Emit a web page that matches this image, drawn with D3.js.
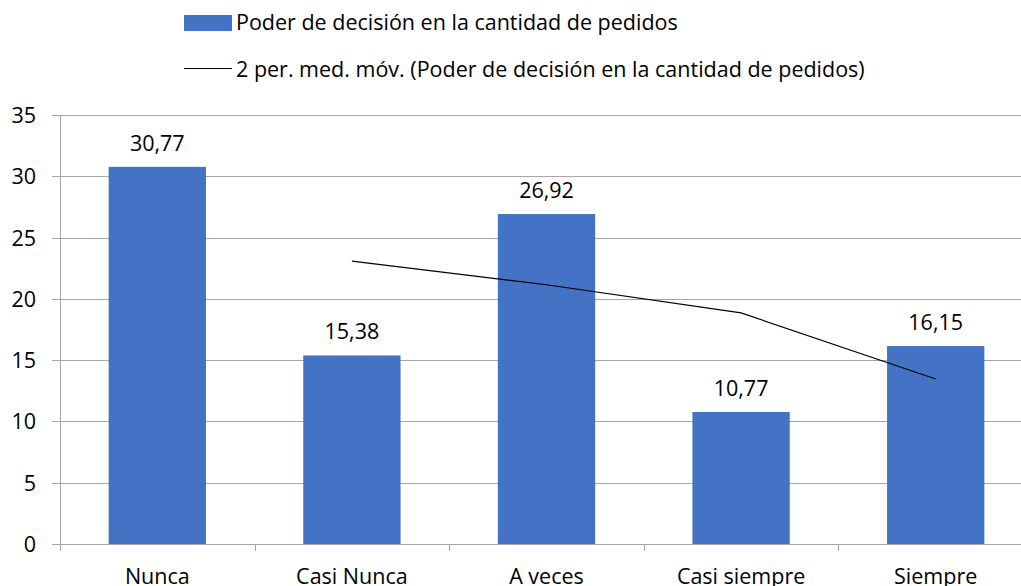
<!DOCTYPE html>
<style>
  html, body { margin:0; width:100%; height:100%; overflow:hidden; background:#fff; }
  text { font-family: "Open Sans", sans-serif; fill:#000; }
</style>
<svg width="1021" height="586"></svg>
<script src="https://d3js.org/d3.v7.min.js"></script>
<script>

var categories = ["Nunca", "Casi Nunca", "A veces", "Casi siempre", "Siempre"],
    values = [30.77, 15.38, 26.92, 10.77, 16.15],
    movingAvg = [null, 23.08, 21.15, 18.85, 13.46],
    yTicks = [0, 5, 10, 15, 20, 25, 30, 35];

var svg = d3.select("svg"),
    plotLeft = 60, plotRight = 1033, plotTop = 115, plotBottom = 544,
    fontSize = 21.5;

var x = d3.scaleBand().domain(categories).range([plotLeft, plotRight]).paddingInner(0.5).paddingOuter(0.25);
var xb = d3.scaleBand().domain(categories).range([plotLeft, plotRight]);
var y = d3.scaleLinear().domain([0, 35]).range([plotBottom, plotTop]);

// gridlines
svg.append("g").selectAll("line")
  .data(yTicks)
  .enter().append("line")
    .attr("x1", plotLeft - 8).attr("x2", 1021)
    .attr("y1", function(d) { return Math.round(y(d)) + 0.5; })
    .attr("y2", function(d) { return Math.round(y(d)) + 0.5; })
    .attr("stroke", "#a6a6a6").attr("stroke-width", 1);

// y axis line
svg.append("line")
    .attr("x1", plotLeft + 0.5).attr("x2", plotLeft + 0.5)
    .attr("y1", plotTop).attr("y2", plotBottom + 7)
    .attr("stroke", "#a6a6a6");

// category ticks
svg.append("g").selectAll("line")
  .data(categories.slice(1))
  .enter().append("line")
    .attr("x1", function(d) { return Math.round(xb(d)) + 0.5; })
    .attr("x2", function(d) { return Math.round(xb(d)) + 0.5; })
    .attr("y1", plotBottom).attr("y2", plotBottom + 7)
    .attr("stroke", "#a6a6a6");

svg.append("g").selectAll("text")
  .data(yTicks)
  .enter().append("text")
    .attr("x", 36).attr("y", function(d) { return y(d) + 8; })
    .attr("text-anchor", "end")
    .attr("font-size", fontSize)
    .text(function(d) { return d; });

// bars
svg.append("g").selectAll("rect")
  .data(values)
  .enter().append("rect")
    .attr("x", function(d, i) { return x(categories[i]); })
    .attr("width", x.bandwidth())
    .attr("y", function(d) { return y(d); })
    .attr("height", function(d) { return plotBottom - y(d); })
    .attr("fill", "#4472c4");

svg.append("g").selectAll("text")
  .data(values)
  .enter().append("text")
    .attr("x", function(d, i) { return x(categories[i]) + x.bandwidth() / 2; })
    .attr("y", function(d) { return y(d) - 16; })
    .attr("text-anchor", "middle")
    .attr("font-size", fontSize)
    .text(function(d) { return d.toFixed(2).replace(".", ","); });

// moving average
var line = d3.line()
    .defined(function(d) { return d != null; })
    .x(function(d, i) { return xb(categories[i]) + xb.bandwidth() / 2; })
    .y(function(d) { return y(d); });

svg.append("path")
    .datum(movingAvg)
    .attr("d", line)
    .attr("fill", "none")
    .attr("stroke", "#000")
    .attr("stroke-width", 1.2);

// category labels
svg.append("g").selectAll("text")
  .data(categories)
  .enter().append("text")
    .attr("x", function(d) { return xb(d) + xb.bandwidth() / 2; })
    .attr("y", 584)
    .attr("text-anchor", "middle")
    .attr("font-size", fontSize)
    .text(function(d) { return d; });

// legend
var legend = svg.append("g");
legend.append("rect")
    .attr("x", 184).attr("y", 15).attr("width", 48).attr("height", 16)
    .attr("fill", "#4472c4");
legend.append("text")
    .attr("x", 236).attr("y", 30).attr("font-size", fontSize)
    .text("Poder de decisión en la cantidad de pedidos");
legend.append("line")
    .attr("x1", 184).attr("x2", 232).attr("y1", 68.5).attr("y2", 68.5)
    .attr("stroke", "#000").attr("stroke-width", 1.2);
legend.append("text")
    .attr("x", 236).attr("y", 77).attr("font-size", fontSize)
    .text("2 per. med. móv. (Poder de decisión en la cantidad de pedidos)");

</script>
